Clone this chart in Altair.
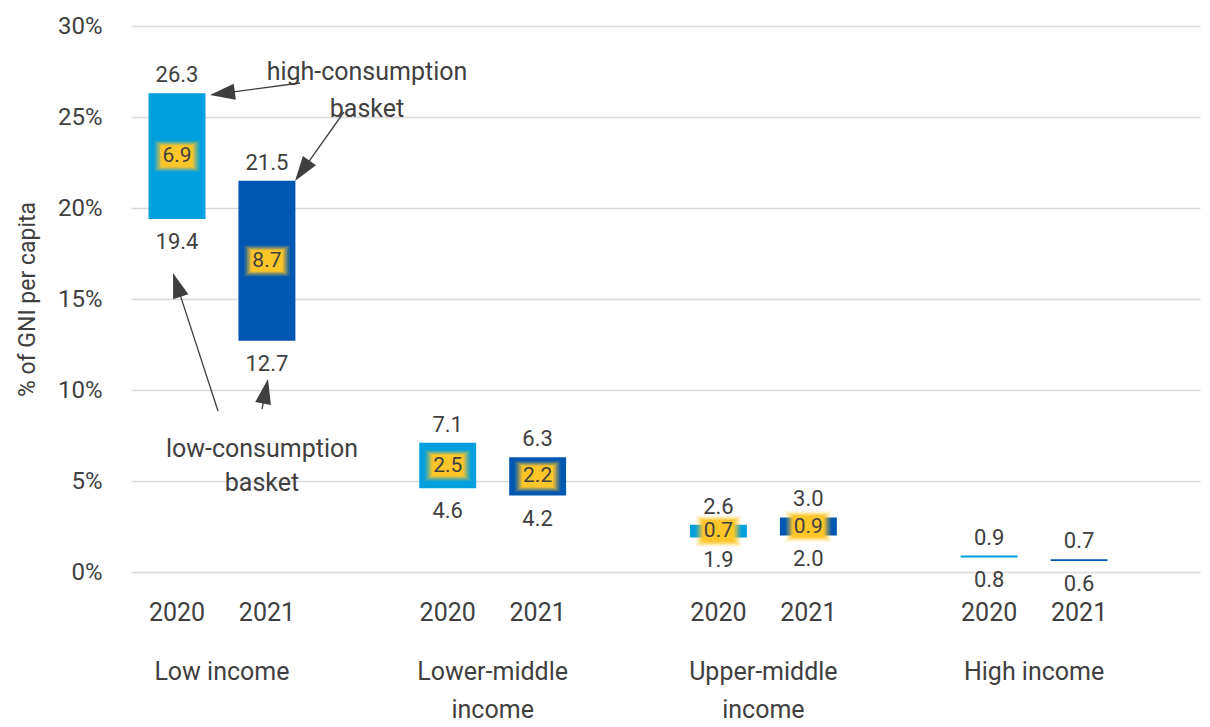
import math
import altair as alt
import pandas as pd

# ---------------- data ----------------
groups = ["Low income", "Lower-middle income", "Upper-middle income", "High income"]
group_labels = ["Low income", "Lower-middle\nincome", "Upper-middle\nincome", "High income"]
years = ["2020", "2021"]
high_2020 = [26.3, 7.1, 2.6, 0.9]
low_2020 = [19.4, 4.6, 1.9, 0.8]
high_2021 = [21.5, 6.3, 3.0, 0.7]
low_2021 = [12.7, 4.2, 2.0, 0.6]
gap_2020 = [6.9, 2.5, 0.7, None]
gap_2021 = [8.7, 2.2, 0.9, None]
y_ticks = [0, 5, 10, 15, 20, 25, 30]

# annotation texts
note_high = "high-consumption\nbasket"
note_low = "low-consumption\nbasket"

# ---------------- styling ----------------
FONT = "Roboto, Liberation Sans, sans-serif"
TXT = "#3F3F3F"
C2020 = "#00A0DF"
C2021 = "#0057B1"
YEL = "#FFC629"
W, H = 1069, 546
OX, OY = 131, 26  # plot origin on page

rows = []
for i, g in enumerate(groups):
    for yr, hi, lo, gp in ((years[0], high_2020[i], low_2020[i], gap_2020[i]),
                           (years[1], high_2021[i], low_2021[i], gap_2021[i])):
        rows.append({"group": g, "glabel": group_labels[i], "year": yr, "high": hi, "low": lo,
                     "mid": (hi + lo) / 2, "gap": gp})
df = pd.DataFrame(rows)
df["high_t"] = df["high"].map(lambda v: f"{v:.1f}")
df["low_t"] = df["low"].map(lambda v: f"{v:.1f}")
df["gap_t"] = df["gap"].map(lambda v: "" if pd.isna(v) else f"{v:.1f}")
gdf = df[df["gap"].notna()]

xscale = alt.Scale(domain=groups, paddingInner=0.328, paddingOuter=0.1384, align=0)
xoff = alt.XOffset("year:N", scale=alt.Scale(domain=years, paddingInner=0.367, paddingOuter=0.195))
X = alt.X("group:N", scale=xscale, axis=None, sort=groups)
yscale = alt.Scale(domain=[0, 30], nice=False, zero=True)

base = alt.Chart(df)

bars = base.mark_bar().encode(
    x=X, xOffset=xoff,
    y=alt.Y("low:Q", scale=yscale,
            axis=alt.Axis(values=y_ticks, labelExpr="datum.value + '%'", grid=True,
                          gridColor="#D9D9D9", gridWidth=1.5, domain=False, ticks=False,
                          labelPadding=29, labelFontSize=24, labelColor=TXT, labelFont=FONT,
                          title="% of GNI per capita", titleFontSize=23, titleFontWeight="normal",
                          titleColor=TXT, titleFont=FONT, titleX=-104, titleY=H / 2,
                          titleAngle=270, titleAlign="center", titleBaseline="middle")),
    y2="high:Q",
    color=alt.Color("year:N", scale=alt.Scale(domain=years, range=[C2020, C2021]), legend=None),
)

hi_lbl = base.mark_text(fontSize=22, color=TXT, font=FONT, baseline="middle", dy=-18).encode(
    x=X, xOffset=xoff, y=alt.Y("high:Q", scale=yscale), text="high_t:N")
lo_lbl = base.mark_text(fontSize=22, color=TXT, font=FONT, baseline="middle", dy=23).encode(
    x=X, xOffset=xoff, y=alt.Y("low:Q", scale=yscale), text="low_t:N")

# soft glowing yellow boxes behind the gap labels
BOX = "M-1,-0.68 L1,-0.68 L1,0.68 L-1,0.68 Z"
glow = []
for w, op in ((46, 0.12), (43, 0.18), (40, 0.26), (37, 0.38), (34, 0.6), (31, 1.0)):
    glow.append(alt.Chart(gdf).mark_point(shape=BOX, filled=True, size=w * w, color=YEL,
                                          opacity=op, strokeWidth=0).encode(
        x=X, xOffset=xoff, y=alt.Y("mid:Q", scale=yscale)))
gap_lbl = alt.Chart(gdf).mark_text(fontSize=21, color=TXT, font=FONT, baseline="middle").encode(
    x=X, xOffset=xoff, y=alt.Y("mid:Q", scale=yscale), text="gap_t:N")

# category labels below the plot
yr_lbl = base.mark_text(fontSize=25, color=TXT, font=FONT, baseline="middle").encode(
    x=X, xOffset=xoff, y=alt.value(H + 41), text="year:N")
grp_df = pd.DataFrame({"group": groups, "glabel": group_labels})
grp_lbl = alt.Chart(grp_df).mark_text(fontSize=25, color=TXT, font=FONT, baseline="alphabetic",
                                      lineBreak="\n", lineHeight=38).encode(
    x=X, y=alt.value(H + 108), text="glabel:N")

# annotations (page pixel coordinates)
one = pd.DataFrame({"a": [0]})
notes = [
    alt.Chart(one).mark_text(text=note_high, fontSize=25, color=TXT, font=FONT, baseline="middle",
                             lineBreak="\n", lineHeight=37).encode(
        x=alt.value(367 - OX), y=alt.value(71.5 - OY)),
    alt.Chart(one).mark_text(text=note_low, fontSize=25, color=TXT, font=FONT, baseline="middle",
                             lineBreak="\n", lineHeight=34).encode(
        x=alt.value(262 - OX), y=alt.value(449 - OY)),
]
arrow_tail = [(300, 83), (344, 112), (218, 411), (262, 409)]
arrow_tip = [(210, 95), (295, 181), (173, 273), (268, 379)]
HEAD = "M0,-1 L0.64,1 L-0.64,1 Z"
HL = 25
arrows = []
for (tx, ty), (hx, hy) in zip(arrow_tail, arrow_tip):
    dx, dy = hx - tx, hy - ty
    L = math.hypot(dx, dy)
    ux, uy = dx / L, dy / L
    cx, cy = hx - ux * HL / 2, hy - uy * HL / 2
    ang = math.degrees(math.atan2(dx, -dy)) % 360
    arrows.append(alt.Chart(one).mark_rule(color=TXT, strokeWidth=1.3).encode(
        x=alt.value(tx - OX), x2=alt.value(cx - OX), y=alt.value(ty - OY), y2=alt.value(cy - OY)))
    arrows.append(alt.Chart(one).mark_point(shape=HEAD, filled=True, size=HL * HL, color=TXT,
                                            opacity=1, angle=ang, strokeWidth=0).encode(
        x=alt.value(cx - OX), y=alt.value(cy - OY)))

chart = alt.layer(bars, *glow, gap_lbl, hi_lbl, lo_lbl, yr_lbl, grp_lbl, *notes, *arrows).properties(
    width=W, height=H,
    padding={"left": OX - 8, "top": OY - 8, "right": 2, "bottom": 719 - (OY - 8) - H},
    autosize=alt.AutoSizeParams(type="none"),
).configure(font=FONT, background="white").configure_view(stroke=None)

chart.save("out.html", embed_options={"renderer": "svg", "actions": False})
